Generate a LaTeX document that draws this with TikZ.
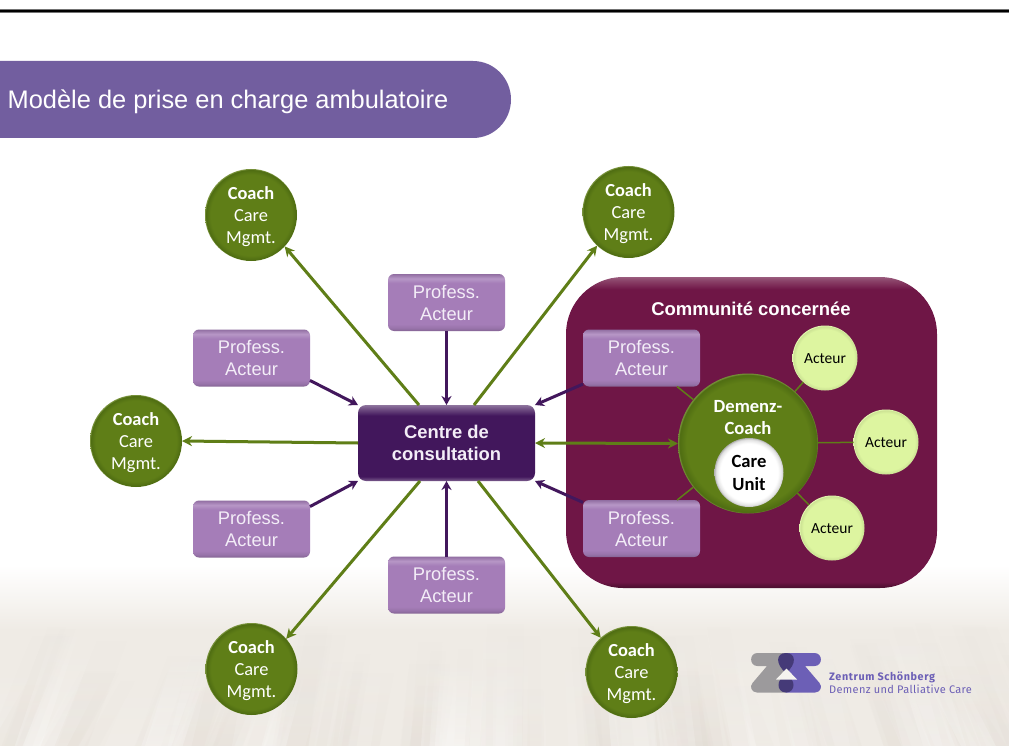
\documentclass[tikz,border=0pt]{standalone}
\usepackage{fontspec}
\setmainfont{Liberation Sans}
\newfontfamily\calibrifont{Carlito}
\newfontfamily\logofont[LetterSpace=3]{Fira Sans}
\newfontfamily\logobold[LetterSpace=5.5]{Fira Sans}
\usetikzlibrary{arrows.meta,fadings}
\definecolor{leaf}{HTML}{5F7E17}
\definecolor{leafdark}{HTML}{4F6D12}
\definecolor{plum}{HTML}{42175C}
\definecolor{wine}{HTML}{6F1646}
\definecolor{lilac}{HTML}{A57DB8}
\definecolor{lime}{HTML}{DDF5A0}
\definecolor{banner}{HTML}{725E9F}
\definecolor{softwhite}{HTML}{F3EDF7}
\definecolor{logopurple}{HTML}{6C5FB6}
\definecolor{logogray}{HTML}{9C9A9C}
\definecolor{logodark}{HTML}{453A78}
\definecolor{field}{HTML}{EFEBE5}
\definecolor{furrow}{HTML}{DCD3CA}
\pgfdeclareradialshading{greenball}{\pgfpoint{0bp}{0bp}}{color(0bp)=(leaf); color(22bp)=(leaf); color(24.5bp)=(leafdark); color(25bp)=(leaf!85!white); color(50bp)=(leaf!85!white)}
\pgfdeclareradialshading{limeball}{\pgfpoint{0bp}{0bp}}{color(0bp)=(lime); color(22bp)=(lime); color(24.5bp)=(lime!92!black); color(25bp)=(lime!85!white); color(50bp)=(lime!85!white)}
\pgfdeclareradialshading{whiteball}{\pgfpoint{0bp}{0bp}}{color(0bp)=(white); color(21bp)=(white); color(24bp)=(black!12); color(25bp)=(black!30); color(50bp)=(black!30)}
\pgfdeclareverticalshading{lilacbox}{100bp}{color(0bp)=(lilac!80!black); color(25bp)=(lilac!80!black); color(27.5bp)=(lilac!92!black); color(31bp)=(lilac); color(67bp)=(lilac); color(71bp)=(lilac!80!white); color(75bp)=(lilac!88!black); color(100bp)=(lilac!88!black)}
\pgfdeclareverticalshading{plumbox}{100bp}{color(0bp)=(plum!70!white); color(25bp)=(plum!70!white); color(28bp)=(plum); color(68bp)=(plum); color(72bp)=(plum!78!white); color(75bp)=(plum!60!white); color(100bp)=(plum!60!white)}
\pgfdeclareverticalshading{winebox}{100bp}{color(0bp)=(wine!65!black); color(25bp)=(wine!65!black); color(26bp)=(wine); color(73bp)=(wine); color(74.5bp)=(wine!80!white); color(75bp)=(wine!70!white); color(100bp)=(wine!70!white)}
\newcommand{\coachlines}{\rule{0pt}{16.5pt}\textbf{Coach}\\Care\\Mgmt.}
\newcommand{\proflines}{Profess.\\Acteur}
\tikzset{
  coach/.style={circle,minimum size=92pt,inner sep=0pt,outer sep=0pt,shading=greenball,text=white,align=center,font=\calibrifont\fontsize{18.4}{22}\selectfont},
  prof/.style={rectangle,rounded corners=6pt,minimum width=117pt,minimum height=57pt,inner sep=0pt,outer sep=0pt,shading=lilacbox,text=softwhite,align=center,font=\fontsize{18.3}{22}\selectfont},
  acteur/.style={circle,minimum size=65pt,inner sep=0pt,outer sep=0pt,shading=limeball,text=black,font=\calibrifont\fontsize{15.5}{18}\selectfont,text height=12pt},
  greenarrow/.style={draw=leaf,line width=3pt,-{Stealth[length=10pt,width=10pt]}},
  plumarrow/.style={draw=plum,line width=3pt,-{Stealth[length=9pt,width=10pt]}},
  link/.style={draw=leaf,line width=1.5pt}
}
\begin{document}
\begin{tikzpicture}[x=1pt,y=-1pt]
\useasboundingbox (0,0) rectangle (1009,746);
% background
\fill[white] (0,0) rectangle (1009,746);
\shade[top color=white,bottom color=field] (0,565) rectangle (1009,630);
\fill[field] (0,630) rectangle (1009,746);
\pgfmathsetseed{4242}
\foreach \n in {1,...,70}{
  \pgfmathsetmacro{\sx}{rnd*1009}
  \pgfmathsetmacro{\sw}{14+rnd*34}
  \pgfmathsetmacro{\sy}{620+rnd*70}
  \pgfmathsetmacro{\so}{0.05+rnd*0.1}
  \fill[furrow,opacity=\so,path fading=north] (\sx,\sy) -- (\sx+\sw,\sy) -- (\sx+\sw+0.1*\sx-50,746) -- (\sx+0.1*\sx-50,746) -- cycle;
}
\foreach \n in {1,...,40}{
  \pgfmathsetmacro{\sx}{rnd*1009}
  \pgfmathsetmacro{\sw}{14+rnd*34}
  \pgfmathsetmacro{\sy}{600+rnd*70}
  \pgfmathsetmacro{\so}{0.08+rnd*0.14}
  \fill[white,opacity=\so,path fading=north] (\sx,\sy) -- (\sx+\sw,\sy) -- (\sx+\sw+0.1*\sx-50,746) -- (\sx+0.1*\sx-50,746) -- cycle;
}
% top rule
\fill[black!55] (0,9) rectangle (1009,13);
\fill[black] (0,9.8) rectangle (1009,12.2);
% banner
\fill[banner] (0,61) -- (473,61) arc[start angle=90,end angle=-90,x radius=38,y radius=-38.5] -- (0,138) -- cycle;
\node[anchor=west,inner sep=0pt,text=white,font=\fontsize{25.4}{30}\selectfont] (title) at (7.5,102) {Modèle de prise en charge ambulatoire};
% community
\node[rectangle,rounded corners=57pt,minimum width=371pt,minimum height=311pt,inner sep=0pt,shading=winebox] (comm) at (751.5,432.5) {};
\node[text=white,inner sep=0pt,font=\bfseries\fontsize{18.5}{22}\selectfont] (commtext) at (751,309) {Communité concernée};
% centre
\node[rectangle,rounded corners=8pt,minimum width=177pt,minimum height=76pt,inner sep=0pt,outer sep=0pt,shading=plumbox,text=softwhite,align=center,font=\bfseries\fontsize{18.4}{22}\selectfont] (c) at (446.5,443) {Centre de\\consultation};
% professionals
\node[prof] (pt) at (446.5,302.5) {\proflines};
\node[prof] (pul) at (251.5,358) {\proflines};
\node[prof] (pll) at (251.5,529) {\proflines};
\node[prof] (pb) at (446.5,585) {\proflines};
\node[prof] (pur) at (641.5,358) {\proflines};
\node[prof] (plr) at (641.5,528.5) {\proflines};
% coaches
\node[coach] (c1) at (251,215) {\coachlines};
\node[coach] (c2) at (628.5,212) {\coachlines};
\node[coach] (c3) at (136,441) {\coachlines};
\node[coach] (c4) at (251.5,669) {\coachlines};
\node[coach] (c5) at (631.5,672) {\coachlines};
% demenz coach
\node[circle,minimum size=140pt,inner sep=0pt,outer sep=0pt,shading=greenball] (dem) at (748,443.5) {};
\node[text=white,align=center,inner sep=0pt,font=\calibrifont\bfseries\fontsize{18.6}{22}\selectfont] (demtext) at (748,418) {Demenz-\\Coach};
\node[circle,minimum size=69pt,inner sep=0pt,outer sep=0pt,shading=whiteball,text=black,align=center,font=\calibrifont\bfseries\fontsize{18.6}{23}\selectfont] (unit) at (749,472.5) {Care\\Unit};
\node[acteur] (a1) at (825,358) {Acteur};
\node[acteur] (a2) at (886,442) {Acteur};
\node[acteur] (a3) at (832,528) {Acteur};
% thin links
\draw[link] (pur) -- (dem);
\draw[link] (plr) -- (dem);
\draw[link] (a1) -- (dem);
\draw[link] (a2) -- (dem);
\draw[link] (a3) -- (dem);
% green arrows
\path[greenarrow] ([xshift=-27.5pt]c.north) -- (c1.-43);
\path[greenarrow] ([xshift=27.5pt]c.north) -- (c2.-133);
\path[greenarrow] (c.west) -- (c3.east);
\path[greenarrow] ([xshift=-26.5pt]c.south) -- (c4.41.6);
\path[greenarrow] ([xshift=31.5pt]c.south) -- (c5.132);
\path[draw=leaf,line width=3pt,{Stealth[length=10pt,width=10pt]}-{Stealth[length=10pt,width=10pt]}] (c.east) -- (dem.west);
% plum arrows
\path[plumarrow] (pt.south) -- (c.north);
\path[plumarrow] (pb.north) -- (c.south);
\path[plumarrow] (pul.-21.8) -- (c.north west);
\path[plumarrow] (pll.21.8) -- (c.south west);
\path[plumarrow] (pur.204) -- (c.north east);
\path[plumarrow] (plr.156) -- (c.south east);
% logo
\fill[logogray] (757.5,653) -- (786,653) -- (786,692.5) -- (757,692.5) .. controls (752,692.5) and (749,687) .. (752.5,683) -- (767,666) -- (757.5,666) .. controls (749,666) and (749,653) .. (757.5,653) -- cycle;
\fill[logopurple] (814.5,653) -- (786,653) -- (786,692.5) -- (815,692.5) .. controls (820,692.5) and (823,687) .. (819.5,683) -- (805,666) -- (814.5,666) .. controls (823,666) and (823,653) .. (814.5,653) -- cycle;
\fill[logodark] (786,653) .. controls (776,653) and (775,664) .. (786,673) .. controls (797,664) and (796,653) .. (786,653) -- cycle;
\fill[logodark] (786,692.5) .. controls (776,692.5) and (776,678) .. (786,676) .. controls (796,678) and (796,692.5) .. (786,692.5) -- cycle;
\fill[field!60!white] (786.5,668.5) -- (797,679.5) -- (776,679.5) -- cycle;
\node[anchor=base west,inner sep=0pt,text=logopurple,font=\logobold\bfseries\fontsize{10.8}{12}\selectfont] (logo1) at (829,680) {Zentrum Schönberg};
\node[anchor=base west,inner sep=0pt,text=logopurple,font=\logofont\fontsize{11}{12}\selectfont] (logo2) at (829,693) {Demenz und Palliative Care};
\end{tikzpicture}
\end{document}
